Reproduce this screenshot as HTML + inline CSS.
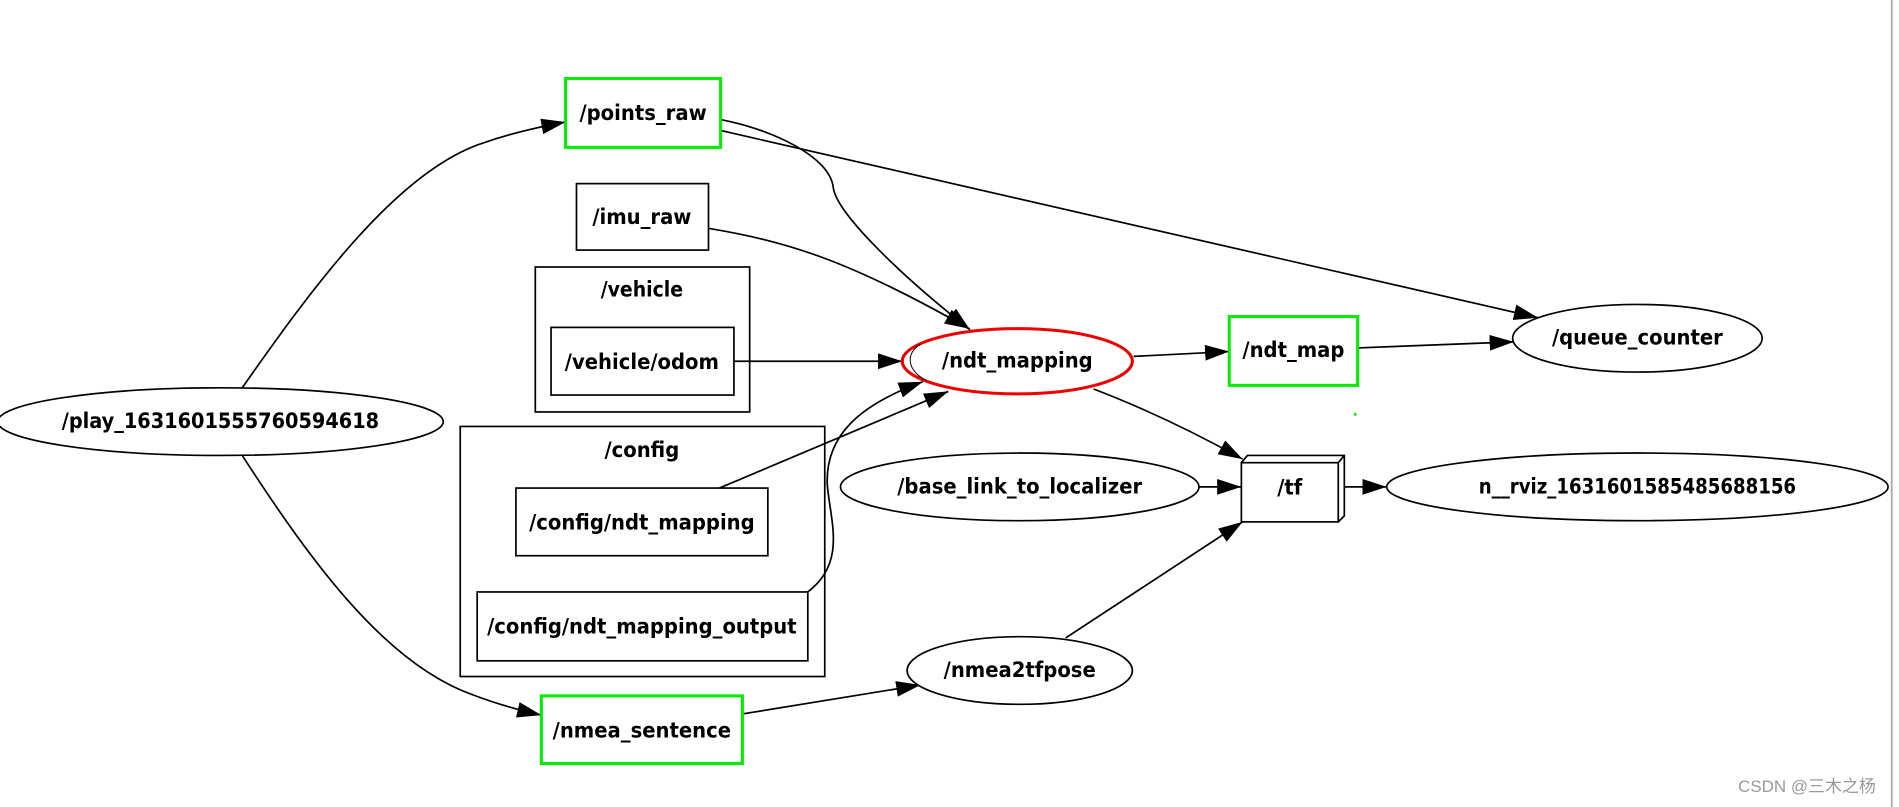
<!DOCTYPE html>
<html><head><meta charset="utf-8"><style>
html,body{margin:0;padding:0;background:#fff;}
svg{display:block;}
text{font-family:"DejaVu Sans Condensed","DejaVu Sans","Liberation Sans",sans-serif;font-weight:bold;font-size:18px;fill:#000;text-anchor:middle;dominant-baseline:central;}
</style></head><body>
<svg width="1899" height="807" viewBox="0 0 1568 668" preserveAspectRatio="none" xmlns="http://www.w3.org/2000/svg">
<defs>
<marker id="a" markerUnits="userSpaceOnUse" markerWidth="22" markerHeight="14" refX="20" refY="6.5" orient="auto">
<path d="M0,0 L20,6.5 L0,13 Z" fill="#000"/>
</marker>
</defs>
<rect width="1568" height="668" fill="#fff"/>
<line x1="1562" y1="0" x2="1562" y2="668" stroke="#aaa" stroke-width="1.5"/>

<g fill="none" stroke="#000" stroke-width="1.4">
<rect x="442" y="221" width="177" height="120"/>
<rect x="380" y="353" width="301" height="207"/>
</g>
<text x="530" y="240" textLength="68" lengthAdjust="spacingAndGlyphs">/vehicle</text>
<text x="530" y="373">/config</text>

<g fill="none" stroke="#000" stroke-width="1.4">
<path d="M200,321 C260,235 330,140 400,118 C420,111 440,106 467,101" marker-end="url(#a)"/>
<path d="M200,377 C260,470 320,550 390,575 C408,582 425,587 447,592" marker-end="url(#a)"/>
<path d="M595,99 C640,108 685,130 688,155 C690,175 740,225 801,273" marker-end="url(#a)"/>
<path d="M595,108 L1270,263" marker-end="url(#a)"/>
<path d="M585,189 C650,200 700,215 800,272" marker-end="url(#a)"/>
<path d="M606,299 L745,299" marker-end="url(#a)"/>
<path d="M594,404 L783,324" marker-end="url(#a)"/>
<path d="M667,490 C700,465 685,430 683,400 C682,360 710,335 762,316" marker-end="url(#a)"/>
<path d="M936,295 L1015,291" marker-end="url(#a)"/>
<path d="M1121,288 L1250,283" marker-end="url(#a)"/>
<path d="M903,322 C950,340 990,360 1026,380" marker-end="url(#a)"/>
<path d="M990,403 L1025,403" marker-end="url(#a)"/>
<path d="M880,528 L1026,432" marker-end="url(#a)"/>
<path d="M1110,403 L1145,403" marker-end="url(#a)"/>
<path d="M613,591 L760,567" marker-end="url(#a)"/>
</g>

<g fill="#fff" stroke="#000" stroke-width="1.4">
<rect x="476" y="152" width="109" height="55"/>
<rect x="455" y="271" width="151" height="56"/>
<rect x="426" y="404" width="208" height="56"/>
<rect x="394" y="490" width="273" height="57"/>
<ellipse cx="182" cy="349" rx="184" ry="28"/>
<ellipse cx="1352" cy="280" rx="103" ry="28"/>
<ellipse cx="842" cy="403" rx="148" ry="28"/>
<ellipse cx="1352" cy="403" rx="207" ry="28"/>
<ellipse cx="842" cy="555" rx="93" ry="28"/>
<path d="M1025,383 L1030,377 L1110,377 L1110,427 L1105,432"/>
<path d="M1105,383 L1110,377"/>
<rect x="1025" y="383" width="80" height="49"/>
</g>
<g fill="#fff" stroke="#0e0" stroke-width="2.5">
<rect x="467" y="65" width="128" height="57"/>
<rect x="447" y="576" width="166" height="56"/>
<rect x="1015" y="262" width="106" height="57"/>
</g>
<ellipse cx="840" cy="299" rx="95" ry="27" fill="#fff" stroke="#e00" stroke-width="2.5"/>
<path d="M760,285 C748,292 748,306 765,315" fill="none" stroke="#000" stroke-width="0.8"/>
<circle cx="1119" cy="343" r="1.2" fill="#0e0"/>

<text x="531" y="94">/points_raw</text>
<text x="530" y="180">/imu_raw</text>
<text x="530" y="300">/vehicle/odom</text>
<text x="530" y="433">/config/ndt_mapping</text>
<text x="530" y="519">/config/ndt_mapping_output</text>
<text x="530" y="605">/nmea_sentence</text>
<text x="182" y="349" textLength="262" lengthAdjust="spacingAndGlyphs">/play_1631601555760594618</text>
<text x="840" y="299">/ndt_mapping</text>
<text x="1068" y="290">/ndt_map</text>
<text x="1352" y="280">/queue_counter</text>
<text x="842" y="403">/base_link_to_localizer</text>
<text x="1065" y="404">/tf</text>
<text x="1352" y="403" textLength="262" lengthAdjust="spacingAndGlyphs">n__rviz_1631601585485688156</text>
<text x="842" y="555">/nmea2tfpose</text>
<text x="1492" y="651" style="font-family:'Liberation Sans','Noto Sans CJK SC',sans-serif;font-weight:normal;font-size:14px;fill:#999;">CSDN @三木之杨</text>
</svg>
</body></html>
